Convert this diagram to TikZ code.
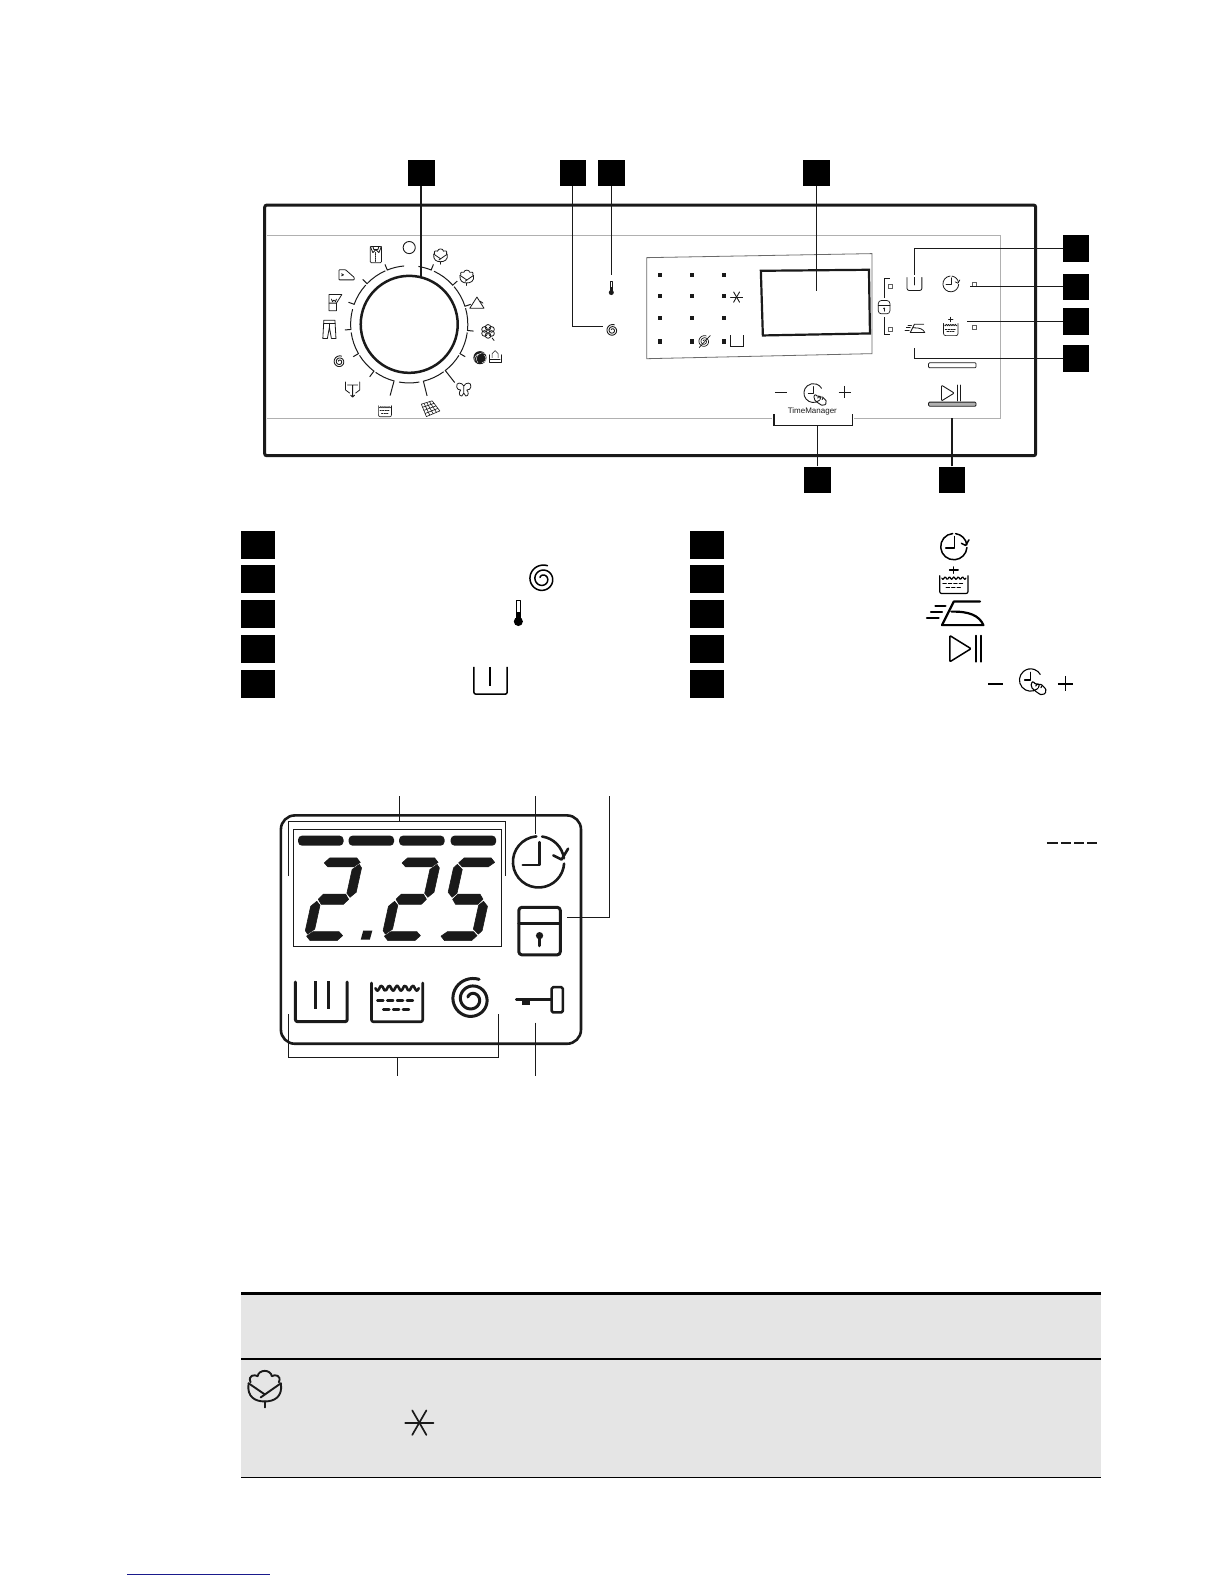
\documentclass[tikz,border=0pt]{standalone}
\usepackage{fontspec}
\setsansfont{Liberation Sans}
\usepackage{tikz}
\usetikzlibrary{positioning}
\definecolor{ink}{HTML}{1A1A1A}
\definecolor{rule}{HTML}{B0B0B0}
\definecolor{band}{HTML}{E5E5E5}
\definecolor{link}{HTML}{1A1A8C}
\newcommand{\lcdA}{\filldraw (-17,36)--(-12.5,41)--(14,41)--(18.5,36.5)--(13,32)--(-12.5,32)--cycle;}
\newcommand{\lcdG}{\filldraw (-15,0)--(-11,5)--(11,5)--(15,0)--(11,-5)--(-11,-5)--cycle;}
\newcommand{\lcdD}{\filldraw (-18.5,-36.5)--(-13,-32)--(12.5,-32)--(17,-36)--(12.5,-41)--(-14,-41)--cycle;}
\newcommand{\lcdB}{\filldraw (18,34.5)--(21,31)--(21,7)--(16,2)--(12,6)--(12,29.5)--cycle;}
\newcommand{\lcdC}{\filldraw (16,-2)--(21,-7)--(21,-31)--(18,-34.5)--(12,-29.5)--(12,-6)--cycle;}
\newcommand{\lcdE}{\filldraw (-16,-2)--(-12,-6)--(-12,-29.5)--(-18,-34.5)--(-21,-31)--(-21,-7)--cycle;}
\newcommand{\lcdF}{\filldraw (-18,34.5)--(-12,29.5)--(-12,6)--(-16,2)--(-21,7)--(-21,31)--cycle;}
\newcommand{\watershape}{
	\draw[rounded corners=2] (-13,9) -- (-13,-13) -- (13,-13) -- (13,9);
	\draw plot[domain=-11:11,samples=25,smooth] (\x,{6+1.5*cos(\x*90)});
	\foreach \d in {-10,-5,0,5} \draw (\d,-1) -- (\d+3,-1);
	\foreach \d in {-7,-2,3} \draw (\d,-6) -- (\d+3,-6);
}
\tikzset{
	icon/.style={yscale=-1,line cap=round,line join=round},
	tag/.style={fill=black,inner sep=0,minimum width=26.5pt,minimum height=26.5pt},
	key/.style={fill=black,inner sep=0,minimum width=34pt,minimum height=28pt},
	leader/.style={draw=ink,line width=1pt},
	spiralicon/.pic={
		\draw plot[domain=0:800,samples=90,smooth] ({(14-11*\x/800)*cos(70+\x)},{(14-11*\x/800)*sin(70+\x)});
	},
	thermoicon/.pic={
		\draw (-2.5,-6) -- (-2.5,14) -- (2.5,14) -- (2.5,-6);
		\fill (-2.5,-8) rectangle (2.5,2);
		\fill (0,-9) circle (5);
	},
	basinicon/.pic={
		\draw[rounded corners=2] (-16,14) -- (-16,-14) -- (16,-14) -- (16,14);
	},
	washicon/.pic={
		\draw[rounded corners=2] (-16,14) -- (-16,-14) -- (16,-14) -- (16,14);
		\draw (0,14) -- (0,-2);
	},
	watericon/.pic={\watershape},
	softicon/.pic={
		\watershape
		\draw (0,12) -- (0,20) (-4,16) -- (4,16);
	},
	clockicon/.pic={
		\draw (95:13) arc[start angle=95,delta angle=261,radius=13];
		\draw (82:13) arc[start angle=82,end angle=8,radius=13];
		\draw (7.5,3.3) -- (11.7,1.2) -- (15,6.7);
		\draw (.5,10) -- (.5,-1.5) -- (-8,-1.5);
	},
	ironicon/.pic={
		\draw (26,11.7) -- (0,11.7) -- (-11.7,-11.7) -- (29.3,-11.7) .. controls (25,-2) and (15,2) .. (-2.3,1.7);
		\draw (-18.3,7.3) -- (-8.3,7.3) (-22.7,1.7) -- (-11.7,1.7) (-26.7,-4.3) -- (-15,-4.3);
	},
	playicon/.pic={
		\draw[rounded corners=1] (-17,13) -- (-17,-13) -- (4,0) -- cycle;
		\draw (9,13) -- (9,-13) (14,13) -- (14,-13);
	},
	touchicon/.pic={
		\draw (-50:13) arc[start angle=-50,delta angle=-280,radius=13];
		\draw (0,9) -- (0,0) -- (-7,0);
		\draw[rounded corners=2] (2,-1) -- (7,-6) -- (10,-4) -- (15,-7) -- (19,-13) -- (14,-18) -- (8,-15) -- (0,-8) -- cycle;
		\draw (9,-9) -- (10,-6) (12,-9) -- (13,-7) (6,-7) -- (7,-5);
	},
	lockicon/.pic={
		\draw[rounded corners=3] (-20.5,-23.5) rectangle (20.5,23.5);
		\draw (-20.5,7.5) -- (20.5,7.5);
		\fill (0,-4.5) circle (3.6);
		\draw (0,-4.5) -- (0,-14.5);
	},
	keyicon/.pic={
		\draw (-23,0) -- (12,0);
		\fill (-17,0) rectangle (-9,-6);
		\draw[rounded corners=1.5] (12,-13) rectangle (23,12);
	},
	staricon/.pic={
		\foreach \a in {0,60,120} \draw (\a:14) -- (\a+180:14);
	},
	cottonicon/.pic={
		\draw (-16,6) .. controls (-18,-8) and (-9,-12) .. (0,-12) .. controls (9,-12) and (18,-8) .. (16,6) -- (-4,-8);
		\draw (-16,6) -- (0,-5);
		\draw (0,-12) -- (0,-18);
		\draw (-14,7) .. controls (-17,14) and (-10,15) .. (-7,13) .. controls (-6,20) and (6,20) .. (7,13) .. controls (10,15) and (17,14) .. (14,7);
	},
	shirticon/.pic={
		\draw[rounded corners=1] (-5.5,8) -- (5.5,8) -- (5.5,-8) -- (-5.5,-8) -- cycle;
		\draw (-5.5,8) -- (-3,2) -- (0,5) -- (3,2) -- (5.5,8) (-3,8) -- (-2,5) -- (0,5) -- (2,5) -- (3,8);
		\draw[densely dotted] (0,2) -- (0,-7);
	},
	shoeicon/.pic={
		\draw[rounded corners=.6] (-7.5,5) -- (-1,5) -- (7.5,-2.5) -- (7.5,-5) -- (-7.5,-5) -- cycle;
		\draw (-5,1) -- (-3,0) -- (-5,-1);
	},
	blouseicon/.pic={
		\draw (-6.3,7.5) -- (6.3,7.5) -- (1,-1) -- (1,-8.5) -- (-6.3,-8.5) -- cycle;
		\draw (-6.3,-1) -- (1,-1) (-4,3) -- (-3,0.5) -- (-1.5,2) -- (0,0.5) -- (1,3);
	},
	jeansicon/.pic={
		\draw (-5.5,9) -- (5.5,9) -- (6.5,-9) -- (2,-9) -- (0,2) -- (-2,-9) -- (-6.5,-9) -- cycle;
		\draw (-5.5,6) -- (5.5,6) (0,6) -- (0,2);
	},
	drainicon/.pic={
		\draw (-7,7) -- (-7,-1) -- (-3,-4) (7,7) -- (7,-1) -- (3,-4);
		\draw (-5,4) -- (5,4) (0,4) -- (0,-8) (-2,-6) -- (0,-8) -- (2,-6);
	},
	neticon/.pic={
		\draw (-9,4) -- (1.7,7.3) -- (9.3,-2.7) -- (-4,-8.3) -- cycle;
		\foreach \t in {.25,.5,.75} {
			\draw ({-9+10.7*\t},{4+3.3*\t}) -- ({-4+13.3*\t},{-8.3+5.6*\t});
			\draw ({-9+5*\t},{4-12.3*\t}) -- ({1.7+7.6*\t},{7.3-10*\t});
		}
	},
	butterflyicon/.pic={
		\draw (0,3) .. controls (-2,7) and (-8,7) .. (-7,2) .. controls (-7,0) and (-5,-1) .. (-3,-1) .. controls (-5,-3) and (-5,-7) .. (-2,-7) -- (0,-4)
			-- (2,-7) .. controls (5,-7) and (5,-3) .. (3,-1) .. controls (5,-1) and (7,0) .. (7,2) .. controls (8,7) and (2,7) .. (0,3) -- (0,-4);
	},
	mounticon/.pic={
		\draw (-7,-5) -- (0,6) -- (7,-5) -- cycle;
		\draw (3,2) -- (6,0);
	},
	flowericon/.pic={
		\foreach \a in {30,90,...,330} \draw (\a:4) circle (2.8);
		\draw (4,-6.5) -- (6,-9);
	},
	woolicon/.pic={
		\fill (0,0) circle (6.5);
		\draw[white,line width=.4pt] (-5,-3) arc[start angle=200,end angle=90,radius=5] (-2,-5) arc[start angle=220,end angle=60,radius=6] (2,-5) arc[start angle=270,end angle=420,radius=4];
	},
	handicon/.pic={
		\draw (-6,2) -- (-6,-6) -- (6,-6) -- (6,2);
		\draw (-3,-1) -- (-3,3) -- (0,6) -- (3,3) -- (3,-1);
		\draw (-5,-3) -- (5,-3);
	},
	lcddigit/.pic={\foreach \s in {#1}{\s}},
}
\begin{document}
\begin{tikzpicture}[x=1.0104pt,y=-1.0104pt]
	\useasboundingbox (0pt,0pt) rectangle (1224pt,-1584pt);

	% control panel
	\draw[ink,line width=3pt,rounded corners=2pt] (262,203) rectangle (1025,451);
	\draw[rule,line width=1pt] (264,233) -- (990,233) -- (990,414) -- (845,414) (764,414) -- (264,414);

	\node[tag](dialtag) at (417,171){};
	\node[tag](spintag) at (567,171){};
	\node[tag](temptag) at (605,171){};
	\node[tag](screentag) at (808,171){};
	\node[tag](prewashtag) at (1065,246){};
	\node[tag](delaytag) at (1065,284){};
	\node[tag](rinsetag) at (1065,318){};
	\node[tag](irontag) at (1065,355){};
	\node[tag](timetag) at (809,475){};
	\node[tag](starttag) at (942,475){};

	% dial
	\node[circle,draw=ink,line width=2.5pt,minimum size=97pt,inner sep=0](dial) at (405,321){};
	\begin{scope}[shift={(405,321)},yscale=-1,draw=ink,line width=1pt]
		\foreach \a/\b/\l in {-105/-125/73,-127/-148/65,-150/-172/64,-175/-195/64,160/138/64,136/114/64,112/95/64,-76/-54/73,-52/-32/73,-30/-8/64,-6/16/64,18/40/64,42/65/64,68/81/64}
			\draw (\a:\l) -- (\a:58) arc[start angle=\a,end angle=\b,radius=58];
		\draw (-100:58) arc[start angle=-100,end angle=-80,radius=58];
	\end{scope}
	\draw[ink,line width=.9pt] (405,245) circle (6);
	\pic[icon,ink,line width=.8pt] at (372,252) {shirticon};
	\pic[icon,ink,line width=.8pt] at (343,272) {shoeicon};
	\pic[icon,ink,line width=.8pt] at (332,299) {blouseicon};
	\pic[icon,ink,line width=.8pt] at (326,326) {jeansicon};
	\pic[icon,ink,line width=.9pt,scale=.42] at (336,358) {spiralicon};
	\pic[icon,ink,line width=.8pt] at (349,385) {drainicon};
	\pic[icon,ink,line width=.6pt,scale=.5] at (381,406) {watericon};
	\pic[icon,ink,line width=.6pt] at (426,404) {neticon};
	\pic[icon,ink,line width=.8pt] at (459,385) {butterflyicon};
	\pic[icon,ink] at (475,354) {woolicon};
	\pic[icon,ink,line width=.6pt] at (490,353) {handicon};
	\pic[icon,ink,line width=.8pt] at (483,328) {flowericon};
	\pic[icon,ink,line width=.8pt] at (472,300) {mounticon};
	\pic[icon,ink,line width=.8pt,scale=.42] at (462,275) {cottonicon};
	\pic[icon,ink,line width=.8pt,scale=.42] at (436,254) {cottonicon};

	\coordinate (dialend) at (417,275);
	\draw[ink,line width=2pt] (dialtag) -- (dialend);

	\pic[icon,ink,line width=.9pt,scale=.42] at (606,327) {spiralicon};
	\coordinate (spinend) at (597,323);
	\coordinate (spinbend) at (567,323);
	\draw[leader] (spintag) -- (spinbend) -- (spinend);
	\pic[icon,ink,scale=.5] at (605,285) {thermoicon};
	\coordinate (tempend) at (605,272);
	\draw[leader] (temptag) -- (tempend);

	% selection field
	\draw[rule!60!black,line width=.8pt] (640,255) -- (863,251) -- (863,350) -- (640,355) -- cycle;
	\foreach \r/\y in {1/272,2/293,3/315,4/338}
		\foreach \x in {653,685,717}
			\fill[ink] (\x-2,\y-2) rectangle (\x+2,\y+2);
	\pic[icon,ink,line width=.9pt,scale=.42] at (729,294) {staricon};
	\pic[icon,ink,line width=.7pt,scale=.42] at (697,338) {spiralicon};
	\draw[ink,line width=.7pt] (692,344) -- (703,332);
	\draw[ink,line width=.7pt] (723,332) -- (723,343) -- (736,343) -- (736,332);
	\draw[ink,line width=2.2pt] (753,268) -- (860,267) -- (861,330) -- (755,332) -- cycle;
	\coordinate (screenend) at (808,288);
	\draw[leader] (screentag) -- (screenend);

	% buttons
	\draw[ink,line width=.8pt] (875,295) -- (875,276) -- (881,276);
	\draw[ink,line width=.8pt] (875,314) -- (875,331) -- (881,331);
	\pic[icon,ink,line width=.7pt,scale=.28] at (875,304) {lockicon};
	\foreach \x/\y in {881/283,881/326,964/281,964/324}
		\draw[ink!70,line width=.6pt] (\x-2,\y-2) rectangle (\x+2,\y+2);
	\pic[icon,ink,line width=.8pt,scale=.46] at (905,281) {washicon};
	\pic[icon,ink,line width=.8pt,scale=.6] at (941,281) {clockicon};
	\pic[icon,ink,line width=.8pt,scale=.35] at (905,325) {ironicon};
	\pic[icon,ink,line width=.7pt,scale=.55] at (941,325) {softicon};
	\coordinate (prewashend) at (905,272);
	\coordinate (prewashbend) at (905,246);
	\draw[leader] (prewashtag) -- (prewashbend) -- (prewashend);
	\coordinate (delayend) at (960,284);
	\draw[leader] (delaytag) -- (delayend);
	\coordinate (rinseend) at (957,318);
	\draw[leader] (rinsetag) -- (rinseend);
	\coordinate (ironend) at (905,344);
	\coordinate (ironbend) at (905,355);
	\draw[leader] (irontag) -- (ironbend) -- (ironend);

	\draw[ink,line width=.8pt,rounded corners=1pt] (919,359) rectangle (966,364);
	\draw[ink,fill=rule,line width=.8pt,rounded corners=1pt] (919,398) rectangle (966,402);
	\pic[icon,ink,line width=.9pt,scale=.6] at (942,389) {playicon};
	\coordinate (startend) at (942,414);
	\draw[ink,line width=1.8pt] (starttag) -- (startend);

	\draw[ink,line width=.9pt] (767,388) -- (779,388) (830,388) -- (842,388) (836,382) -- (836,394);
	\pic[icon,ink,line width=.9pt,scale=.72] at (805,389) {touchicon};
	\node[font=\sffamily\fontsize{8}{8}\selectfont,inner sep=0,text=ink](timelabel) at (804,407){TimeManager};
	\draw[ink,line width=1.2pt] (766,410) -- (766,421) -- (844,421) -- (844,410);
	\coordinate (timebracket) at (809,421);
	\draw[ink,line width=1.6pt] (timetag) -- (timebracket);

	% legend
	\node[key](k1) at (255,539){};
	\node[key](k2)[below=6.4pt of k1]{};
	\node[key](k3)[below=6.4pt of k2]{};
	\node[key](k4)[below=6.4pt of k3]{};
	\node[key](k5)[below=6.4pt of k4]{};
	\node[key](k6) at (700,539){};
	\node[key](k7)[below=6.4pt of k6]{};
	\node[key](k8)[below=6.4pt of k7]{};
	\node[key](k9)[below=6.4pt of k8]{};
	\node[key](k10)[below=6.4pt of k9]{};
	\pic[icon,black,line width=1.5pt] at (537,573) {spiralicon};
	\pic[icon,black,scale=.9] at (513,607) {thermoicon};
	\begin{scope}[black,line width=1.5pt]
		\draw[rounded corners=2] (469,660) -- (469,687) -- (502,687) -- (502,660);
		\draw (485,660) -- (485,679);
	\end{scope}
	\pic[icon,black,line width=1.5pt] at (944,541) {clockicon};
	\pic[icon,black,line width=1.2pt,xscale=1.08,yscale=.8] at (944,577) {softicon};
	\pic[icon,black,line width=2.2pt] at (944,607) {ironicon};
	\pic[icon,black,line width=1.5pt] at (957,642) {playicon};
	\draw[black,line width=1.5pt] (978,677) -- (993,677) (1047,677) -- (1062,677) (1054.5,669) -- (1054.5,684);
	\pic[icon,black,line width=1.1pt,scale=.85] at (1020,673) {touchicon};

	% screen detail
	\draw[ink,line width=2.6pt,rounded corners=14pt] (278,807) rectangle (575,1033);
	\draw[ink,line width=.8pt] (290,821) rectangle (496,937);
	\foreach \x in {295,345,395,446}
		\fill[ink,rounded corners=4pt] (\x,827) rectangle (\x+45,837);
	\pic[icon,ink,line width=.6pt,xslant=-.22] at (330,890) {lcddigit={\lcdA,\lcdB,\lcdG,\lcdE,\lcdD}};
	\pic[icon,ink,line width=.6pt,xslant=-.22] at (407,890) {lcddigit={\lcdA,\lcdB,\lcdG,\lcdE,\lcdD}};
	\pic[icon,ink,line width=.6pt,xslant=-.22] at (463,890) {lcddigit={\lcdA,\lcdF,\lcdG,\lcdC,\lcdD}};
	\fill[ink] (357,930) -- (366,930) -- (368.5,921) -- (359.5,921) -- cycle;
	\pic[icon,ink,line width=2.6pt,scale=1.95] at (533,853) {clockicon};
	\pic[icon,ink,line width=3pt] at (534,921.5) {lockicon};
	\pic[icon,ink,line width=3pt,xscale=1.6,yscale=1.4] at (318,991.5) {basinicon};
	\draw[ink,line width=3pt] (312,971) -- (312,999) (325,971) -- (325,999);
	\pic[icon,ink,line width=2.6pt,xscale=1.95,yscale=1.75] at (393,988.5) {watericon};
	\pic[icon,ink,line width=3pt,scale=1.5] at (467,989) {spiralicon};
	\pic[icon,ink,line width=2.6pt] at (534,989) {keyicon};

	\coordinate (barstop) at (395,788);
	\coordinate (barsjoin) at (395,813);
	\coordinate (barsleft) at (286,813);
	\coordinate (barsright) at (500,813);
	\coordinate (barsleftend) at (286,867);
	\coordinate (barsrightend) at (500,867);
	\draw[ink,line width=1pt] (barsleftend) -- (barsleft) -- (barsright) -- (barsrightend);
	\draw[ink,line width=1pt] (barstop) -- (barsjoin);
	\coordinate (clocktop) at (530,788);
	\coordinate (clockend) at (530,825);
	\draw[ink,line width=1pt] (clocktop) -- (clockend);
	\coordinate (locktop) at (603,788);
	\coordinate (lockbend) at (603,908);
	\coordinate (lockend) at (561,908);
	\draw[ink,line width=1pt] (locktop) -- (lockbend) -- (lockend);
	\coordinate (phaseleft) at (286,1004);
	\coordinate (phaseleftbase) at (286,1047);
	\coordinate (phaserightbase) at (493,1047);
	\coordinate (phaseright) at (493,1004);
	\draw[ink,line width=1pt] (phaseleft) -- (phaseleftbase) -- (phaserightbase) -- (phaseright);
	\coordinate (phasejoin) at (393,1047);
	\coordinate (phaseend) at (393,1065);
	\draw[ink,line width=1pt] (phasejoin) -- (phaseend);
	\coordinate (keytop) at (530,1012);
	\coordinate (keyend) at (530,1065);
	\draw[ink,line width=1pt] (keytop) -- (keyend);

	% dashes
	\draw[ink,line width=2pt] (1036,834) -- (1047,834) (1050,834) -- (1060,834) (1063,834) -- (1073,834) (1076,834) -- (1086,834);

	% table
	\fill[band] (239,1280) rectangle (1090,1462);
	\draw[black,line width=3pt] (239,1280) -- (1090,1280);
	\draw[black,line width=1.5pt] (239,1345) -- (1090,1345);
	\draw[black,line width=.7pt] (239,1462) -- (1090,1462);
	\pic[icon,ink,line width=1.9pt] at (262,1375) {cottonicon};
	\pic[icon,ink,line width=1.7pt] at (415,1408) {staricon};

	% link rule
	\draw[link,line width=1pt] (126,1558) -- (267,1558);
\end{tikzpicture}
\end{document}
